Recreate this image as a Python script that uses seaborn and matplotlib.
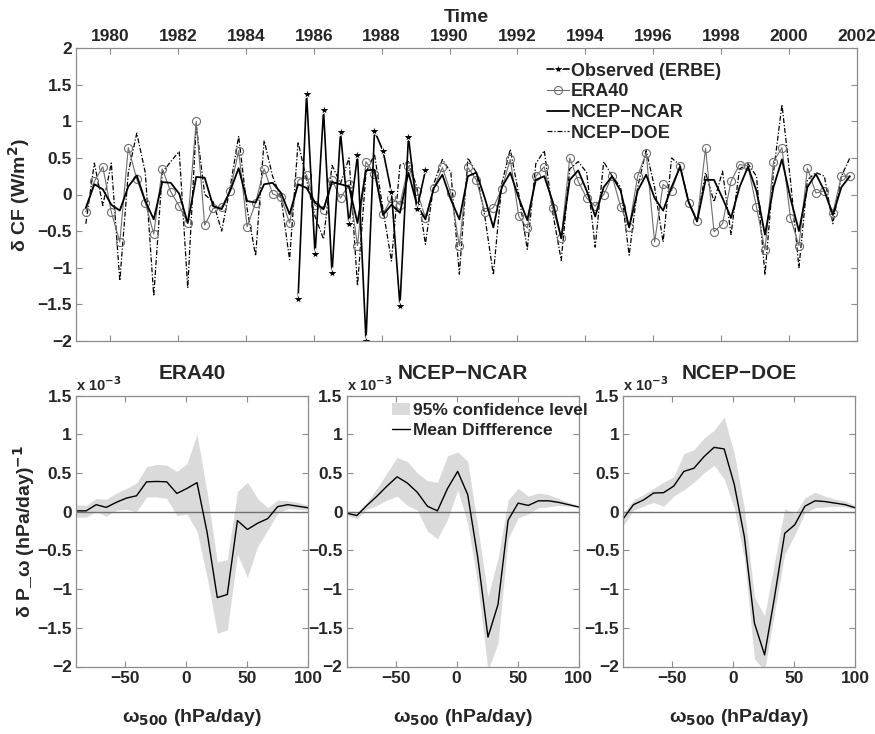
import numpy as np
import pandas as pd
import matplotlib
matplotlib.use("Agg")
import matplotlib.pyplot as plt
import seaborn as sns

# ---------------- data ----------------
start_year = 1979.29          # MAM 1979 (season centre)
season_step = 0.25
era40 = [-0.24, 0.18, 0.38, -0.24, -0.65, 0.64, 0.21, -0.11, -0.54, 0.35,
         0.04, -0.16, -0.39, 1.00, -0.42, -0.19, -0.17, 0.05, 0.60, -0.44,
         -0.11, 0.35, 0.01, -0.04, -0.39, 0.19, 0.27, -0.15, -0.21, 0.20,
         -0.05, 0.14, -0.70, 0.45, 0.28, -0.27, -0.05, -0.14, 0.39, 0.05,
         -0.32, 0.09, 0.37, 0.02, -0.70, 0.37, 0.20, -0.24, -0.18, 0.08,
         0.48, -0.30, -0.46, 0.25, 0.38, -0.18, -0.60, 0.50, 0.18, -0.05,
         -0.16, 0.00, 0.25, -0.17, -0.45, 0.25, 0.57, -0.65, 0.14, 0.05,
         0.39, -0.12, -0.36, 0.63, -0.51, -0.40, 0.18, 0.41, 0.39, -0.17,
         -0.76, 0.45, 0.64, -0.32, -0.70, 0.36, 0.02, 0.05, -0.25, 0.25,
         0.25]
ncep_ncar = [-0.18, 0.14, 0.07, -0.14, -0.22, 0.11, 0.26, -0.09, -0.34, 0.17,
             0.16, 0.01, -0.39, 0.24, 0.23, -0.16, -0.20, 0.05, 0.36, -0.09,
             -0.11, 0.14, 0.16, 0.02, -0.27, 0.14, 0.09, -0.11, -0.20, 0.17,
             0.14, 0.11, -0.39, 0.33, 0.34, -0.28, -0.14, -0.25, 0.30, -0.14,
             -0.34, 0.09, 0.27, -0.07, -0.34, 0.25, 0.30, -0.05, -0.45, 0.10,
             0.30, -0.05, -0.35, 0.20, 0.25, -0.10, -0.60, 0.20, 0.33, 0.05,
             -0.30, 0.10, 0.25, 0.05, -0.45, 0.05, 0.27, -0.05, -0.22, 0.10,
             0.38, -0.10, -0.37, 0.20, 0.20, -0.05, -0.32, 0.10, 0.38, 0.05,
             -0.55, 0.10, 0.48, -0.05, -0.50, 0.10, 0.28, 0.05, -0.28, 0.10,
             0.25]
ncep_doe = [-0.40, 0.43, -0.15, 0.43, -1.18, 0.30, 0.84, 0.30, -1.39, 0.30,
            0.45, 0.59, -1.28, 0.95, 0.00, -0.10, -0.50, 0.10, 0.80, -0.20,
            -0.84, 0.74, 0.25, -0.05, -0.89, 0.72, 0.20, -0.30, -0.61, 0.40,
            0.15, 0.50, -1.25, 0.30, 0.55, -0.20, -0.91, 0.40, 0.45, 0.10,
            -0.68, 0.15, 0.48, 0.30, -1.09, 0.50, 0.30, -0.30, -1.10, 0.15,
            0.62, 0.00, -0.75, 0.42, 0.60, -0.25, -0.90, 0.35, 0.45, 0.30,
            -0.72, 0.45, 0.25, 0.10, -0.83, 0.10, 0.60, 0.10, -0.65, 0.50,
            0.40, -0.10, -0.35, 0.30, -0.10, 0.32, -0.55, 0.35, 0.42, 0.25,
            -1.10, 0.30, 1.23, 0.20, -1.00, 0.20, 0.30, 0.25, -0.40, 0.25,
            0.50]
erbe_start_index = 25          # JJA 1985
erbe = [-1.43, 1.38, -0.82, 1.15, -1.08, 0.85, -0.40, 0.54, -2.00, 0.87,
        0.60, 0.03, -1.52, 0.79, -0.20, 0.33]

omega = [-90, -81.7, -73.5, -65.2, -57, -48.7, -40.4, -32.2, -23.9, -15.7,
         -7.4, 0.9, 9.1, 17.4, 25.7, 33.9, 42.2, 50.4, 58.7, 67, 75.2, 83.5,
         91.7, 100]
era_mean = [0.01, 0.01, 0.09, 0.055, 0.12, 0.175, 0.205, 0.385, 0.39, 0.385,
            0.235, 0.30, 0.375, -0.27, -1.11, -1.07, -0.115, -0.23, -0.15,
            -0.09, 0.065, 0.09, 0.07, 0.05]
era_hi = [0.09, 0.08, 0.17, 0.16, 0.24, 0.30, 0.37, 0.58, 0.61, 0.60, 0.52,
          0.62, 1.00, 0.25, -0.65, -0.62, 0.26, 0.38, 0.17, 0.05, 0.15, 0.14,
          0.12, 0.08]
era_lo = [-0.07, -0.07, 0.0, -0.06, 0.02, 0.03, 0.0, 0.19, 0.19, 0.17, -0.05,
          -0.03, -0.25, -0.85, -1.57, -1.53, -0.55, -0.85, -0.45, -0.24,
          -0.02, 0.04, 0.03, 0.02]
ncar_mean = [-0.02, -0.05, 0.08, 0.20, 0.33, 0.45, 0.37, 0.25, 0.07, 0.01,
             0.30, 0.52, 0.22, -0.60, -1.62, -1.20, -0.11, 0.11, 0.08, 0.14,
             0.14, 0.12, 0.09, 0.06]
ncar_hi = [0.0, -0.02, 0.12, 0.30, 0.50, 0.70, 0.65, 0.50, 0.40, 0.38, 0.72,
           0.77, 0.65, -0.20, -1.10, -0.60, 0.15, 0.30, 0.20, 0.24, 0.22,
           0.17, 0.12, 0.08]
ncar_lo = [-0.05, -0.09, 0.03, 0.08, 0.15, 0.20, 0.08, 0.02, -0.25, -0.35,
           -0.10, 0.28, -0.15, -0.95, -2.05, -1.70, -0.35, -0.08, -0.03, 0.05,
           0.06, 0.08, 0.07, 0.05]
doe_mean = [-0.09, 0.09, 0.15, 0.24, 0.245, 0.33, 0.52, 0.56, 0.71, 0.83,
            0.81, 0.35, -0.32, -1.44, -1.85, -1.10, -0.28, -0.17, 0.07, 0.14,
            0.13, 0.11, 0.09, 0.05]
doe_hi = [-0.02, 0.15, 0.22, 0.30, 0.38, 0.45, 0.75, 0.80, 0.95, 1.05, 1.22,
          0.75, 0.05, -1.10, -1.35, -0.65, 0.04, -0.03, 0.18, 0.25, 0.20,
          0.16, 0.14, 0.08]
doe_lo = [-0.18, 0.02, 0.07, 0.12, 0.07, 0.20, 0.28, 0.38, 0.50, 0.60, 0.42,
          0.05, -0.60, -1.90, -2.05, -1.30, -0.55, -0.30, -0.02, 0.05, 0.06,
          0.07, 0.06, 0.03]

# ---------------- style ----------------
sns.set_style("ticks")
plt.rcParams["font.family"] = ["Liberation Sans", "DejaVu Sans"]
plt.rcParams["font.weight"] = "bold"
plt.rcParams["axes.labelweight"] = "bold"
plt.rcParams["axes.titleweight"] = "bold"
plt.rcParams["axes.unicode_minus"] = True
FRAME = "#8c8c8c"

fig = plt.figure(figsize=(8.75, 7.34), dpi=100)

def style_axes(ax):
    for s in ax.spines.values():
        s.set_color(FRAME)
        s.set_linewidth(0.9)
    ax.tick_params(direction="in", length=4, width=0.8, color=FRAME,
                   top=True, right=True, labelsize=12.5, pad=3)

# ---------------- top panel ----------------
n = len(era40)
t = [start_year + season_step * i for i in range(n)]
t_erbe = t[erbe_start_index:erbe_start_index + len(erbe)]
df = pd.DataFrame({"t": t, "ERA40": era40, "NCEP-NCAR": ncep_ncar,
                   "NCEP-DOE": ncep_doe})

ax = fig.add_axes([76 / 875, 1 - 340.7 / 734, 781 / 875, 292.4 / 734])
sns.lineplot(data=df, x="t", y="NCEP-DOE", ax=ax, color="black", lw=0.9,
             linestyle=(0, (4, 1.5, 1, 1.5)), estimator=None, sort=False,
             label="NCEP\u2212DOE")
sns.lineplot(data=df, x="t", y="ERA40", ax=ax, color="#6e6e6e", lw=0.8,
             marker="o", markersize=5.8, markerfacecolor="none",
             markeredgecolor="#6e6e6e", markeredgewidth=0.8,
             estimator=None, sort=False, label="ERA40")
sns.lineplot(data=df, x="t", y="NCEP-NCAR", ax=ax, color="black", lw=1.3,
             estimator=None, sort=False, label="NCEP\u2212NCAR")
sns.lineplot(x=t_erbe, y=erbe, ax=ax, color="black", lw=1.2, marker="*",
             markersize=8, estimator=None, sort=False,
             label="Observed (ERBE)")
ax.set_xlim(1979, 2002)
ax.set_ylim(-2, 2)
ax.set_xticks(range(1980, 2003, 2))
ax.set_yticks([-2, -1.5, -1, -0.5, 0, 0.5, 1, 1.5, 2])
ax.set_yticklabels(["\u22122", "\u22121.5", "\u22121", "\u22120.5", "0",
                    "0.5", "1", "1.5", "2"])
style_axes(ax)
ax.tick_params(axis="x", labeltop=True, labelbottom=False)
ax.xaxis.set_label_position("top")
ax.set_xlabel("Time", fontsize=14, labelpad=5)
ax.set_ylabel("\u03b4 CF (W/m$^\\mathbf{2}$)", fontsize=14, labelpad=4)
h, l = ax.get_legend_handles_labels()
order = ["Observed (ERBE)", "ERA40", "NCEP\u2212NCAR", "NCEP\u2212DOE"]
hd = dict(zip(l, h))
ax.legend([hd[k] for k in order], order, loc="upper left",
          bbox_to_anchor=(0.585, 1.0), frameon=False, fontsize=13,
          handlelength=1.2, handletextpad=0.1, labelspacing=0.2,
          borderaxespad=0.4)

# ---------------- bottom panels ----------------
panels = [
    ("ERA40", era_mean, era_lo, era_hi, 76),
    ("NCEP\u2212NCAR", ncar_mean, ncar_lo, ncar_hi, 346.7),
    ("NCEP\u2212DOE", doe_mean, doe_lo, doe_hi, 623.3),
]
for i, (name, m, lo, hi, x0) in enumerate(panels):
    bx = fig.add_axes([x0 / 875, 1 - 666.5 / 734, 232 / 875, 271 / 734])
    bx.fill_between(omega, lo, hi, color="#dadada", lw=0,
                    label="95% confidence level")
    bx.axhline(0, color="#707070", lw=1.0)
    sns.lineplot(x=omega, y=m, ax=bx, color="black", lw=1.0,
                 estimator=None, sort=False, label="Mean Diffference")
    bx.set_xlim(omega[0], omega[-1])
    bx.set_ylim(-2, 1.5)
    bx.set_xticks([-50, 0, 50, 100])
    bx.set_xticklabels(["\u221250", "0", "50", "100"])
    bx.set_yticks([-2, -1.5, -1, -0.5, 0, 0.5, 1, 1.5])
    bx.set_yticklabels(["\u22122", "\u22121.5", "\u22121", "\u22120.5", "0",
                        "0.5", "1", "1.5"])
    style_axes(bx)
    bx.set_title(name, fontsize=15, pad=12)
    bx.set_xlabel("\u03c9$_{\\mathbf{500}}$ (hPa/day)", fontsize=14,
                  labelpad=15)
    bx.text(0.0, 1.005, "x 10$^{\\mathbf{-3}}$", transform=bx.transAxes,
            fontsize=10.5, ha="left", va="bottom")
    if i == 0:
        bx.set_ylabel("\u03b4 P_\u03c9 (hPa/day)$^{\\mathbf{-1}}$",
                      fontsize=14, labelpad=0)
    else:
        bx.set_ylabel("")
    if i == 1:
        bx.legend(loc="upper left", bbox_to_anchor=(0.13, 1.03),
                  frameon=False, fontsize=12.5, handlelength=1.0,
                  handletextpad=0.2, labelspacing=0.25)
    else:
        leg = bx.get_legend()
        if leg:
            leg.remove()

fig.savefig("out.png", dpi=100)
